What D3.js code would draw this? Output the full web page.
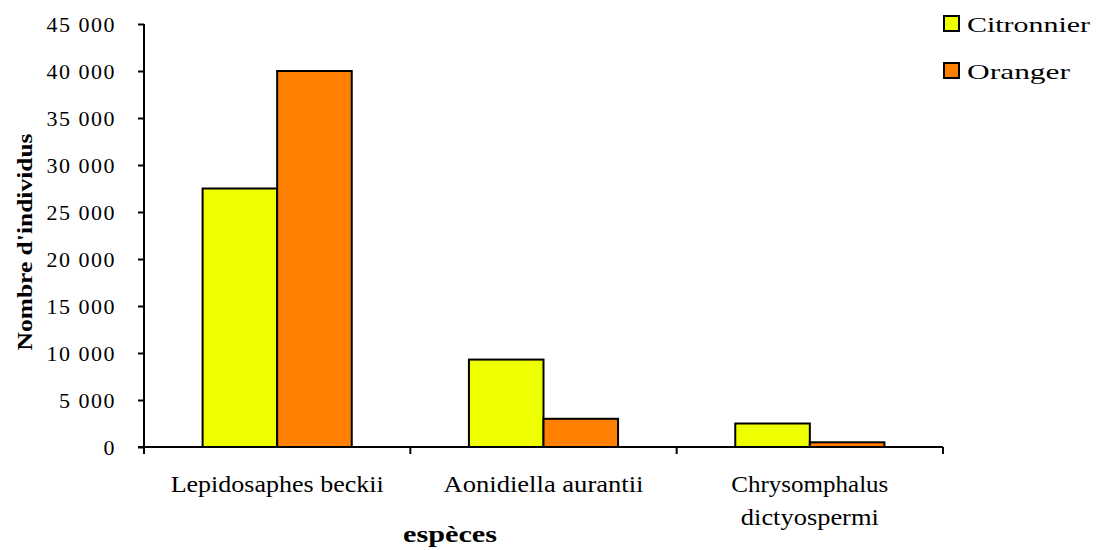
<!DOCTYPE html>
<html>
<head>
<meta charset="utf-8">
<script src="https://cdn.jsdelivr.net/npm/d3@7"></script>
<style>
  body { margin: 0; background: #fff; }
  text { font-family: "Liberation Serif", "DejaVu Serif", serif; fill: #000; }
</style>
</head>
<body>
<svg id="chart"></svg>
<script>
const species = ["Lepidosaphes beckii", "Aonidiella aurantii", "Chrysomphalus dictyospermi"];
const speciesLines = [["Lepidosaphes beckii"], ["Aonidiella aurantii"], ["Chrysomphalus", "dictyospermi"]];
const speciesLineWidths = [[213], [200], [157, 138]];
const seriesNames = ["Citronnier", "Oranger"];
const legendWidths = [123, 103];
const citronnier = [27500, 9300, 2500];
const oranger = [40000, 3000, 500];
const yTicks = [0, 5000, 10000, 15000, 20000, 25000, 30000, 35000, 40000, 45000];
const colors = ["#eeff00", "#ff8000"];

const width = 1100, height = 550;
const margin = { top: 24, right: 157, bottom: 103, left: 144 };

const svg = d3.select("svg#chart")
  .attr("width", width)
  .attr("height", height);

const x = d3.scaleBand()
  .domain(species)
  .range([margin.left, width - margin.right])
  .paddingInner(0)
  .paddingOuter(0);

// inner group scale, bars sit in the middle of each category
const groupW = x.bandwidth() * 0.56;
const x1 = d3.scaleBand()
  .domain(seriesNames)
  .range([(x.bandwidth() - groupW) / 2, (x.bandwidth() + groupW) / 2]);

const y = d3.scaleLinear()
  .domain([0, 45000])
  .range([height - margin.bottom, margin.top]);

const fmt = d => d3.format(",")(d).replace(/,/g, " ");

const rows = species.map((s, i) => ({ s, vals: [citronnier[i], oranger[i]] }));

const groups = svg.selectAll("g.grp")
  .data(rows)
  .enter()
  .append("g")
  .attr("class", "grp")
  .attr("transform", d => "translate(" + x(d.s) + ",0)");

groups.selectAll("rect")
  .data(d => d.vals.map((v, j) => ({ name: seriesNames[j], v, j })))
  .enter()
  .append("rect")
  .attr("x", d => x1(d.name))
  .attr("y", d => y(d.v))
  .attr("width", x1.bandwidth())
  .attr("height", d => y(0) - y(d.v))
  .style("fill", d => colors[d.j])
  .style("stroke", "#000")
  .style("stroke-width", 2);

// y axis
const yAxis = d3.axisLeft(y).tickValues(yTicks).tickFormat(fmt).tickSize(6).tickPadding(22);
const gy = svg.append("g")
  .attr("transform", "translate(" + margin.left + ",0)")
  .call(yAxis);
gy.selectAll("text")
  .style("font-size", "22px")
  .style("letter-spacing", "1.5px")
  .style("font-family", "'Liberation Serif', serif");
gy.selectAll("path, line").style("stroke", "#000").style("stroke-width", 2);
gy.select("path.domain").attr("d", "M0," + y(45000) + "V" + y(0));

// x axis with ticks at category boundaries
const gx = svg.append("g")
  .attr("transform", "translate(0," + y(0) + ")");
gx.append("line")
  .attr("x1", margin.left - 6).attr("x2", width - margin.right)
  .style("stroke", "#000").style("stroke-width", 2);
const bounds = species.map(s => x(s)).concat([x.range()[1]]);
gx.selectAll("line.tk")
  .data(bounds)
  .enter()
  .append("line")
  .attr("class", "tk")
  .attr("x1", d => d).attr("x2", d => d)
  .attr("y1", 0).attr("y2", 7)
  .style("stroke", "#000").style("stroke-width", 2);

const labels = svg.selectAll("text.cat")
  .data(species)
  .enter()
  .append("text")
  .attr("class", "cat")
  .attr("text-anchor", "middle")
  .style("font-size", "23px")
  .attr("transform", (d) => "translate(" + (x(d) + x.bandwidth() / 2) + "," + (y(0) + 45) + ")");
labels.selectAll("tspan")
  .data((d, i) => speciesLines[i].map((t, k) => ({ t, w: speciesLineWidths[i][k] })))
  .enter()
  .append("tspan")
  .attr("x", 0)
  .attr("dy", (d, i) => i === 0 ? 0 : 33)
  .attr("textLength", d => d.w)
  .attr("lengthAdjust", "spacingAndGlyphs")
  .text(d => d.t);

// axis titles
svg.append("text")
  .attr("x", 450).attr("y", 542)
  .attr("text-anchor", "middle")
  .attr("textLength", 94)
  .attr("lengthAdjust", "spacingAndGlyphs")
  .style("font-size", "24px").style("font-weight", "bold")
  .text("espèces");

svg.append("text")
  .attr("transform", "translate(32,242) rotate(-90)")
  .attr("text-anchor", "middle")
  .attr("textLength", 217)
  .attr("lengthAdjust", "spacingAndGlyphs")
  .style("font-size", "22px").style("font-weight", "bold")
  .text("Nombre d'individus");

// legend
const legend = svg.selectAll("g.leg")
  .data(seriesNames)
  .enter()
  .append("g")
  .attr("class", "leg")
  .attr("transform", (d, i) => "translate(944," + (16 + i * 47) + ")");
legend.append("rect")
  .attr("width", 15).attr("height", 15)
  .style("fill", (d, i) => colors[i])
  .style("stroke", "#000").style("stroke-width", 2);
legend.append("text")
  .attr("x", 23).attr("y", 16)
  .attr("textLength", (d, i) => legendWidths[i])
  .attr("lengthAdjust", "spacingAndGlyphs")
  .style("font-size", "22px")
  .text(d => d);
</script>
</body>
</html>
